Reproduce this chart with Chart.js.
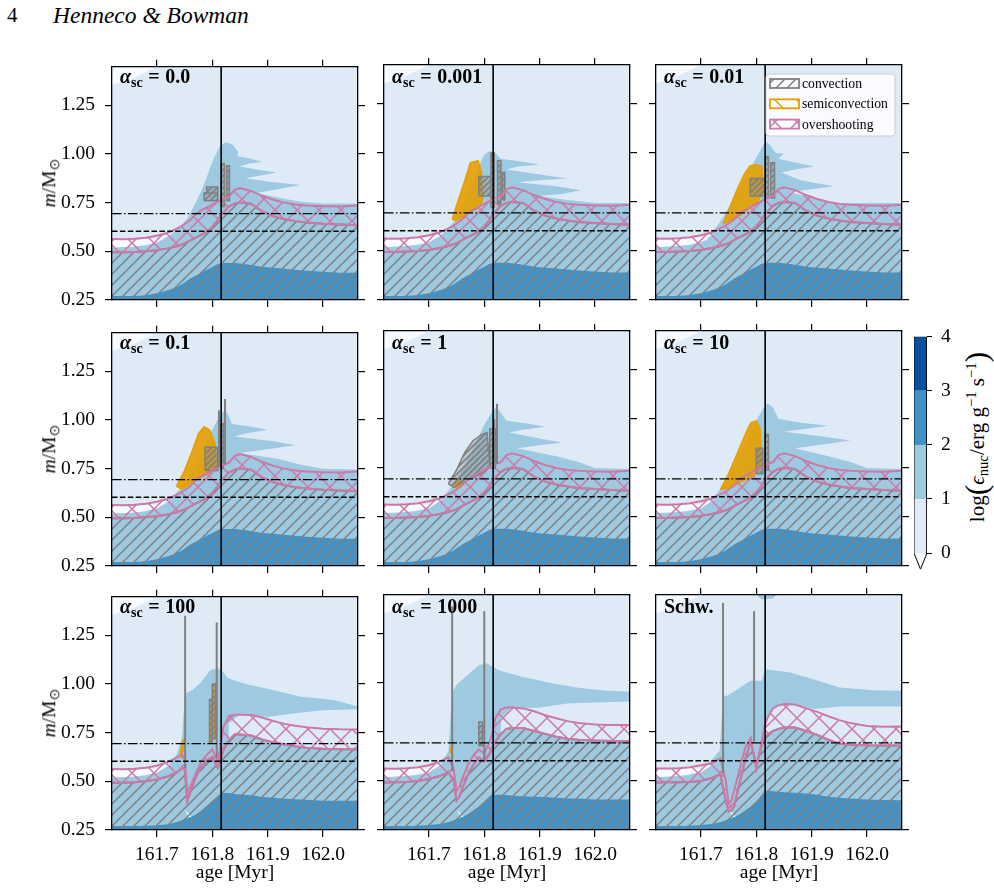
<!DOCTYPE html>
<html>
<head>
<meta charset="utf-8">
<script src="https://cdn.jsdelivr.net/npm/chart.js@4.4.1/dist/chart.umd.min.js"></script>
<style>
  body { margin: 0; width: 994px; height: 896px; position: relative; overflow: hidden; background: #fff;
         font-family: 'Liberation Serif', 'Times New Roman', serif; color: #000; }
  canvas { position: absolute; }
  .t { position: absolute; white-space: nowrap; line-height: 1; }
  .t sub { font-size: 70%; vertical-align: baseline; position: relative; top: 0.28em; }
  .t sup { font-size: 70%; vertical-align: baseline; position: relative; top: -0.55em; }
  .lab { font-weight: bold; font-size: 20px; }
  .eq { margin: 0 0.28em; }
  .rot { transform: translate(-50%, -50%) rotate(-90deg); font-size: 19.5px; }
  .cbl { font-size: 21px; }
  .big { font-size: 150%; position: relative; top: 0.08em; }
</style>
</head>
<body>
<div class="t" style="left:7px;top:5px;font-size:21px">4</div>
<div class="t" style="left:53px;top:4px;font-size:23.5px;font-style:italic">Henneco &amp; Bowman</div>
<div class="t rot cbl" style="left:974px;top:437px">log<span class="big">(</span><i>ϵ</i><sub>nuc</sub>/erg g<sup>−1</sup> s<sup>−1</sup><span class="big">)</span></div>

<script>
const ages = [161.619, 161.64, 161.66, 161.68, 161.70, 161.72, 161.735, 161.745, 161.75, 161.755,
  161.76, 161.77, 161.78, 161.79, 161.80, 161.81, 161.816, 161.82, 161.83, 161.84,
  161.85, 161.87, 161.89, 161.91, 161.93, 161.95, 161.97, 162.00, 162.03, 162.063]

const xTicks = [161.7, 161.8, 161.9, 162.0]
const yTicks = [0.25, 0.50, 0.75, 1.00, 1.25]
const ageRange = [161.619, 162.063]
const massRange = [0.25, 1.448]
const tamsAge = 161.816
const massDashDot = 0.694
const massDashed = 0.603

const panelLabels = ['0.0', '0.001', '0.01', '0.1', '1', '10', '100', '1000', 'Schw.']

// panels alpha_sc = 0 ... 10 share the core boundaries
const convTopA = [0.495, 0.495, 0.497, 0.50, 0.505, 0.515, 0.525, 0.535, 0.54, 0.548,
  0.555, 0.57, 0.585, 0.60, 0.625, 0.66, 0.69, 0.70, 0.73, 0.745,
  0.75, 0.745, 0.705, 0.68, 0.665, 0.655, 0.648, 0.642, 0.638, 0.634]
const ovTopA = [0.563, 0.562, 0.565, 0.57, 0.58, 0.595, 0.615, 0.63, 0.64, 0.65,
  0.66, 0.69, 0.71, 0.725, 0.74, 0.755, 0.765, 0.77, 0.78, 0.815,
  0.825, 0.81, 0.785, 0.765, 0.75, 0.74, 0.735, 0.732, 0.73, 0.735]
const darkTopA = [0.27, 0.27, 0.27, 0.275, 0.285, 0.30, 0.315, 0.33, 0.34, 0.35,
  0.36, 0.375, 0.39, 0.405, 0.42, 0.435, 0.44, 0.44, 0.44, 0.44,
  0.437, 0.43, 0.42, 0.415, 0.41, 0.405, 0.40, 0.395, 0.39, 0.39]

const convTop7 = [0.492, 0.493, 0.495, 0.50, 0.51, 0.525, 0.545, 0.565, 0.57, 0.40,
  0.44, 0.52, 0.575, 0.605, 0.625, 0.57, 0.62, 0.66, 0.71, 0.74,
  0.74, 0.735, 0.715, 0.70, 0.69, 0.68, 0.672, 0.667, 0.665, 0.664]
const ovTop7 = [0.563, 0.562, 0.565, 0.57, 0.58, 0.60, 0.62, 0.64, 0.62, 0.44,
  0.47, 0.54, 0.60, 0.635, 0.665, 0.60, 0.70, 0.78, 0.835, 0.842,
  0.842, 0.84, 0.828, 0.81, 0.795, 0.785, 0.778, 0.77, 0.767, 0.766]
const darkTop7 = [0.27, 0.27, 0.27, 0.272, 0.275, 0.28, 0.29, 0.30, 0.305, 0.31,
  0.315, 0.33, 0.35, 0.375, 0.40, 0.425, 0.435, 0.44, 0.44, 0.435,
  0.432, 0.428, 0.42, 0.415, 0.41, 0.408, 0.405, 0.40, 0.40, 0.40]

const convTop8 = [0.492, 0.493, 0.495, 0.50, 0.51, 0.525, 0.545, 0.50, 0.40, 0.42,
  0.46, 0.53, 0.58, 0.62, 0.60, 0.64, 0.68, 0.70, 0.74, 0.765,
  0.77, 0.77, 0.755, 0.74, 0.725, 0.715, 0.71, 0.706, 0.704, 0.703]
const ovTop8 = [0.563, 0.562, 0.565, 0.57, 0.58, 0.60, 0.62, 0.56, 0.45, 0.47,
  0.51, 0.58, 0.63, 0.66, 0.64, 0.70, 0.76, 0.82, 0.865, 0.875,
  0.875, 0.87, 0.855, 0.835, 0.82, 0.805, 0.795, 0.788, 0.785, 0.785]
const darkTop8 = [0.27, 0.27, 0.27, 0.272, 0.275, 0.28, 0.29, 0.30, 0.305, 0.31,
  0.315, 0.33, 0.35, 0.37, 0.395, 0.42, 0.43, 0.43, 0.43, 0.428,
  0.425, 0.422, 0.42, 0.418, 0.415, 0.41, 0.41, 0.405, 0.405, 0.405]

const convTop9 = [0.492, 0.493, 0.494, 0.495, 0.50, 0.515, 0.535, 0.40, 0.345, 0.35,
  0.37, 0.49, 0.61, 0.70, 0.58, 0.68, 0.723, 0.735, 0.755, 0.765,
  0.772, 0.772, 0.755, 0.735, 0.71, 0.69, 0.685, 0.682, 0.681, 0.681]
const ovTop9 = [0.563, 0.563, 0.565, 0.57, 0.58, 0.59, 0.615, 0.50, 0.385, 0.40,
  0.45, 0.56, 0.67, 0.72, 0.56, 0.706, 0.79, 0.82, 0.87, 0.885,
  0.892, 0.89, 0.87, 0.852, 0.83, 0.81, 0.795, 0.78, 0.776, 0.777]
const darkTop9 = [0.27, 0.27, 0.27, 0.272, 0.275, 0.28, 0.29, 0.30, 0.305, 0.31,
  0.315, 0.33, 0.35, 0.37, 0.395, 0.43, 0.45, 0.45, 0.448, 0.445,
  0.442, 0.44, 0.436, 0.43, 0.42, 0.415, 0.41, 0.405, 0.403, 0.402]

// upper edge of the 1 < log eps < 2 region, one outline per panel
const midX1 = [161.619, 161.68, 161.70, 161.72, 161.74, 161.755, 161.77, 161.78, 161.79, 161.80, 161.81, 161.817, 161.826, 161.838, 161.847, 161.845, 161.87, 161.89, 161.865, 161.85, 161.88, 161.916, 161.89, 161.86, 161.91, 161.96, 161.93, 161.88, 161.92, 161.96, 162.00, 162.063]
const midY1 = [0.52, 0.53, 0.545, 0.575, 0.62, 0.67, 0.75, 0.81, 0.88, 0.96, 1.02, 1.05, 1.06, 1.045, 1.01, 0.99, 0.975, 0.96, 0.95, 0.935, 0.92, 0.905, 0.89, 0.875, 0.855, 0.84, 0.825, 0.80, 0.775, 0.755, 0.745, 0.745]
const midX2 = [161.619, 161.68, 161.70, 161.72, 161.74, 161.755, 161.77, 161.78, 161.79, 161.80, 161.81, 161.82, 161.83, 161.87, 161.90, 161.86, 161.84, 161.90, 161.95, 161.90, 161.86, 161.93, 161.975, 161.94, 161.90, 161.95, 162.00, 162.063]
const midY2 = [0.52, 0.53, 0.545, 0.575, 0.63, 0.69, 0.78, 0.85, 0.93, 0.99, 1.01, 1.0, 0.97, 0.955, 0.94, 0.93, 0.915, 0.89, 0.87, 0.86, 0.85, 0.83, 0.81, 0.79, 0.78, 0.76, 0.745, 0.745]
const midX3 = [161.619, 161.68, 161.71, 161.74, 161.77, 161.789, 161.807, 161.816, 161.825, 161.835, 161.85, 161.84, 161.88, 161.905, 161.87, 161.845, 161.88, 161.94, 161.90, 161.86, 161.90, 161.95, 162.063]
const midY3 = [0.52, 0.53, 0.555, 0.67, 0.82, 0.92, 1.01, 1.06, 1.04, 1.0, 0.995, 0.97, 0.945, 0.93, 0.915, 0.90, 0.86, 0.83, 0.815, 0.80, 0.77, 0.745, 0.745]
const midX4 = [161.619, 161.68, 161.70, 161.72, 161.74, 161.76, 161.78, 161.80, 161.815, 161.823, 161.83, 161.835, 161.87, 161.90, 161.86, 161.84, 161.91, 161.95, 161.90, 161.85, 161.92, 161.96, 162.00, 162.063]
const midY4 = [0.52, 0.53, 0.55, 0.585, 0.64, 0.72, 0.83, 0.95, 1.03, 1.05, 1.02, 0.98, 0.965, 0.95, 0.93, 0.915, 0.89, 0.87, 0.85, 0.83, 0.80, 0.77, 0.75, 0.745]
const midX5 = [161.619, 161.68, 161.70, 161.72, 161.74, 161.76, 161.78, 161.80, 161.815, 161.822, 161.83, 161.84, 161.88, 161.91, 161.87, 161.845, 161.90, 161.94, 161.90, 161.86, 161.93, 161.97, 162.00, 162.063]
const midY5 = [0.52, 0.53, 0.55, 0.585, 0.65, 0.74, 0.85, 0.97, 1.04, 1.06, 1.03, 0.99, 0.975, 0.96, 0.945, 0.93, 0.90, 0.88, 0.865, 0.85, 0.81, 0.78, 0.75, 0.745]
const midX6 = [161.619, 161.68, 161.70, 161.72, 161.74, 161.76, 161.78, 161.80, 161.812, 161.82, 161.83, 161.84, 161.88, 161.93, 161.89, 161.85, 161.92, 161.97, 161.92, 161.87, 161.93, 161.97, 162.00, 162.063]
const midY6 = [0.52, 0.53, 0.55, 0.59, 0.66, 0.76, 0.87, 0.99, 1.05, 1.08, 1.06, 1.0, 0.98, 0.965, 0.95, 0.935, 0.91, 0.89, 0.87, 0.85, 0.81, 0.78, 0.75, 0.745]
const midX7 = [161.619, 161.68, 161.70, 161.718, 161.736, 161.745, 161.751, 161.765, 161.78, 161.796, 161.81, 161.82, 161.828, 161.86, 161.898, 161.958, 162.019, 162.063]
const midY7 = [0.52, 0.53, 0.545, 0.575, 0.64, 0.72, 0.95, 0.97, 1.01, 1.07, 1.08, 1.06, 1.03, 1.0, 0.976, 0.935, 0.918, 0.884]
const midX8 = [161.619, 161.68, 161.70, 161.718, 161.735, 161.742, 161.75, 161.77, 161.79, 161.805, 161.816, 161.83, 161.87, 161.92, 161.97, 162.02, 162.063]
const midY8 = [0.52, 0.53, 0.545, 0.575, 0.65, 0.95, 0.99, 1.04, 1.09, 1.10, 1.08, 1.06, 1.03, 1.0, 0.975, 0.96, 0.955]
const midX9 = [161.619, 161.68, 161.711, 161.734, 161.740, 161.748, 161.771, 161.789, 161.81, 161.816, 161.861, 161.903, 161.951, 162.011, 162.063]
const midY9 = [0.52, 0.53, 0.58, 0.655, 0.935, 0.935, 0.977, 1.011, 1.011, 1.07, 1.053, 1.019, 0.977, 0.963, 0.96]

// light band between the overshoot zone and the burning shell (alpha_sc = 100, 1000, Schw.)
const gapX7 = [161.83, 161.85, 161.87, 161.90, 161.95, 162.0, 162.063]
const gapHi7 = [0.80, 0.842, 0.84, 0.83, 0.85, 0.865, 0.87]
const gapLo7 = [0.71, 0.74, 0.735, 0.71, 0.68, 0.667, 0.664]
const gapX8 = [161.83, 161.85, 161.87, 161.90, 161.95, 162.0, 162.063]
const gapHi8 = [0.82, 0.875, 0.87, 0.875, 0.895, 0.90, 0.905]
const gapLo8 = [0.74, 0.77, 0.77, 0.75, 0.715, 0.706, 0.703]
const gapX9 = [161.816, 161.83, 161.861, 161.903, 161.951, 162.011, 162.063]
const gapHi9 = [0.79, 0.875, 0.892, 0.867, 0.879, 0.879, 0.879]
const gapLo9 = [0.723, 0.755, 0.774, 0.74, 0.69, 0.681, 0.681]

// log eps < 0 patches
const whiteX = [161.619, 161.66, 161.70, 161.725, 161.70, 161.66, 161.619]
const whiteY = [0.558, 0.558, 0.568, 0.59, 0.545, 0.525, 0.52]
const cornerX = [161.619, 161.70, 161.68, 161.65, 161.619]
const cornerY = [1.448, 1.448, 1.42, 1.38, 1.355]
const sliverX = [161.748, 161.755, 161.77, 161.785, 161.77, 161.752]
const sliverY = [0.37, 0.33, 0.285, 0.26, 0.295, 0.35]
const blobX9 = [161.80, 161.835, 161.83, 161.81]
const blobY9 = [1.448, 1.448, 1.43, 1.425]

// semiconvective zones
const semiX2 = [161.742, 161.752, 161.765, 161.775, 161.789, 161.795, 161.797, 161.79, 161.77, 161.75]
const semiY2 = [0.66, 0.75, 0.86, 0.95, 0.96, 0.90, 0.76, 0.72, 0.69, 0.655]
const semiX3 = [161.740, 161.752, 161.765, 161.778, 161.789, 161.80, 161.81, 161.812, 161.80, 161.775, 161.755]
const semiY3 = [0.64, 0.72, 0.81, 0.89, 0.935, 0.94, 0.93, 0.80, 0.74, 0.69, 0.655]
const semiX4 = [161.735, 161.75, 161.765, 161.775, 161.785, 161.795, 161.805, 161.808, 161.79, 161.765, 161.745]
const semiY4 = [0.66, 0.74, 0.85, 0.93, 0.965, 0.95, 0.88, 0.75, 0.72, 0.685, 0.645]
const semiX5 = [161.745, 161.755, 161.76, 161.75]
const semiY5 = [0.66, 0.70, 0.67, 0.645]
const semiX6 = [161.735, 161.75, 161.765, 161.78, 161.79, 161.80, 161.807, 161.81, 161.80, 161.78, 161.76, 161.745]
const semiY6 = [0.64, 0.72, 0.82, 0.92, 0.98, 0.99, 0.95, 0.78, 0.72, 0.69, 0.66, 0.645]
const semiX7a = [161.742, 161.748, 161.75, 161.745]
const semiY7a = [0.62, 0.66, 0.72, 0.70]
const semiX7b = [161.795, 161.80, 161.806, 161.803]
const semiY7b = [0.70, 0.95, 1.0, 0.72]
const semiX8a = [161.738, 161.745, 161.742]
const semiY8a = [0.64, 0.69, 0.70]
const semiX8b = [161.795, 161.80, 161.798]
const semiY8b = [0.72, 0.78, 0.73]

// convective shells [age0, age1, m0, m1]
const boxes1 = [[161.785, 161.81, 0.76, 0.80], [161.79, 161.81, 0.80, 0.83], [161.816, 161.822, 0.73, 0.95], [161.826, 161.831, 0.76, 0.94]]
const boxes2 = [[161.79, 161.812, 0.78, 0.88], [161.812, 161.818, 0.72, 1.0], [161.824, 161.83, 0.74, 0.96], [161.833, 161.837, 0.76, 0.90]]
const boxes3 = [[161.789, 161.815, 0.78, 0.87], [161.816, 161.822, 0.77, 0.98], [161.826, 161.833, 0.77, 0.95]]
const boxes4 = [[161.787, 161.81, 0.74, 0.86], [161.815, 161.82, 0.75, 0.98]]
const boxes5 = [[161.81, 161.82, 0.75, 0.95]]
const boxes6 = [[161.80, 161.812, 0.72, 0.85], [161.816, 161.822, 0.74, 0.92]]
const boxes7 = [[161.795, 161.80, 0.70, 0.92], [161.80, 161.806, 0.72, 1.0]]
const boxes8 = [[161.79, 161.797, 0.68, 0.80]]
const convX5 = [161.735, 161.75, 161.765, 161.78, 161.795, 161.805, 161.81, 161.80, 161.78, 161.76, 161.745]
const convY5 = [0.67, 0.74, 0.83, 0.89, 0.92, 0.93, 0.76, 0.73, 0.70, 0.675, 0.65]

// thin convective spikes [age, m bottom, m top]
const spikes4 = [[161.812, 0.76, 1.05], [161.823, 0.77, 1.107]]
const spikes5 = [[161.818, 0.76, 1.0], [161.823, 0.77, 1.077]]
const spikes7 = [[161.751, 0.57, 1.35], [161.808, 0.62, 1.315]]
const spikes8 = [[161.742, 0.55, 1.39], [161.80, 0.60, 1.365]]
const spikes9 = [[161.740, 0.54, 1.408], [161.796, 0.70, 1.366]]

const cbarLevels = [0, 1, 2, 3, 4]
const cbarExtend = -0.3
const legendLabels = ['convection', 'semiconvection', 'overshooting']

const grey = '#808080', orange = '#e69f00', pink = '#cc79a7'
const levelColors = ['#deebf7', '#9ecae1', '#4292c6', '#08519c']
const underColor = '#f7fbff'

Chart.defaults.font.family = "'Liberation Serif', 'Times New Roman', serif"
Chart.defaults.font.size = 19.5
Chart.defaults.color = '#000'

function hatch(color, size, dirs, width, base) {
  const c = document.createElement('canvas')
  c.width = size
  c.height = size
  const g = c.getContext('2d')
  if (base) {
    g.fillStyle = base
    g.fillRect(0, 0, size, size)
  }
  g.strokeStyle = color
  g.lineWidth = width
  g.beginPath()
  if (dirs.includes('/')) {
    g.moveTo(0, size); g.lineTo(size, 0)
    g.moveTo(-2, 2); g.lineTo(2, -2)
    g.moveTo(size - 2, size + 2); g.lineTo(size + 2, size - 2)
  }
  if (dirs.includes('\\')) {
    g.moveTo(0, 0); g.lineTo(size, size)
    g.moveTo(-2, size - 2); g.lineTo(2, size + 2)
    g.moveTo(size - 2, -2); g.lineTo(size + 2, 2)
  }
  g.stroke()
  return g.createPattern(c, 'repeat')
}

const convHatch = hatch(grey, 11, '/', 1.5)
const ovHatch = hatch(pink, 22, '/\\', 1.5)
const semiHatch = hatch(orange, 22, '\\', 1.5)
const boxHatch = hatch(grey, 6, '/', 1.6, 'rgba(128,128,128,0.35)')

const P = (xs, ys) => xs.map((x, k) => ({x, y: ys[k]}))
const under = (xs, ys) => [...P(xs, ys), {x: xs[xs.length - 1], y: massRange[0]}, {x: xs[0], y: massRange[0]}]
const band = (xs, hi, lo) => [...P(xs, hi), ...P(xs, lo).reverse()]
const closed = pts => [...pts, pts[0]]
const rect = ([a0, a1, m0, m1]) => [{x: a0, y: m0}, {x: a1, y: m0}, {x: a1, y: m1}, {x: a0, y: m1}, {x: a0, y: m0}]
const join = polys => polys.flatMap((q, k) => k ? [{x: null, y: null}, ...q] : q)

const panels = [
  {conv: convTopA, ov: ovTopA, dark: darkTopA, midX: midX1, midY: midY1, semi: [], boxes: boxes1, spikes: []},
  {conv: convTopA, ov: ovTopA, dark: darkTopA, midX: midX2, midY: midY2, semi: [[semiX2, semiY2]], boxes: boxes2, spikes: []},
  {conv: convTopA, ov: ovTopA, dark: darkTopA, midX: midX3, midY: midY3, semi: [[semiX3, semiY3]], boxes: boxes3, spikes: [], legend: true},
  {conv: convTopA, ov: ovTopA, dark: darkTopA, midX: midX4, midY: midY4, semi: [[semiX4, semiY4]], boxes: boxes4, spikes: spikes4},
  {conv: convTopA, ov: ovTopA, dark: darkTopA, midX: midX5, midY: midY5, semi: [[semiX5, semiY5]], boxes: boxes5, spikes: spikes5, convPoly: [convX5, convY5]},
  {conv: convTopA, ov: ovTopA, dark: darkTopA, midX: midX6, midY: midY6, semi: [[semiX6, semiY6]], boxes: boxes6, spikes: []},
  {conv: convTop7, ov: ovTop7, dark: darkTop7, midX: midX7, midY: midY7, semi: [[semiX7a, semiY7a], [semiX7b, semiY7b]], boxes: boxes7, spikes: spikes7, gap: [gapX7, gapHi7, gapLo7], sliver: true},
  {conv: convTop8, ov: ovTop8, dark: darkTop8, midX: midX8, midY: midY8, semi: [[semiX8a, semiY8a], [semiX8b, semiY8b]], boxes: boxes8, spikes: spikes8, gap: [gapX8, gapHi8, gapLo8], sliver: true},
  {conv: convTop9, ov: ovTop9, dark: darkTop9, midX: midX9, midY: midY9, semi: [], boxes: [], spikes: spikes9, gap: [gapX9, gapHi9, gapLo9], sliver: true, blob: true}
]

const colLeft = [112, 384, 656]
const rowTop = [65, 331, 595]
const plotW = 246, plotH = 235

function area(data, fill, edge) {
  return {data, fill: 'shape', backgroundColor: fill, borderColor: edge || 'transparent',
    borderWidth: edge ? 1.5 : 0, pointRadius: 0, xAxisID: 'x', yAxisID: 'y'}
}
function curve(data, color, width, dash) {
  return {data, fill: false, borderColor: color, borderWidth: width, borderDash: dash || [],
    pointRadius: 0, xAxisID: 'x', yAxisID: 'y'}
}

function buildLayers(p) {
  const layers = [
    area(band(ageRange, [massRange[1], massRange[1]], [massRange[0], massRange[0]]), levelColors[0]),
    area(P(cornerX, cornerY), underColor),
    area(under(p.midX, p.midY), levelColors[1])
  ]
  if (p.gap) layers.push(area(band(p.gap[0], p.gap[1], p.gap[2]), levelColors[0]))
  layers.push(area(P(whiteX, whiteY), underColor))
  if (p.sliver) layers.push(area(P(sliverX, sliverY), underColor))
  layers.push(area(under(ages, p.dark), levelColors[2]))
  if (p.blob) layers.push(area(P(blobX9, blobY9), levelColors[1]))
  layers.push(area(under(ages, p.conv), convHatch))
  layers.push(area(band(ages, p.ov, p.conv), ovHatch))
  if (p.semi.length) {
    layers.push(area(join(p.semi.map(([xs, ys]) => closed(P(xs, ys)))), 'rgba(230,159,0,0.9)', orange))
  }
  if (p.convPoly) layers.push(area(closed(P(p.convPoly[0], p.convPoly[1])), boxHatch, grey))
  if (p.boxes.length) layers.push(area(join(p.boxes.map(rect)), boxHatch, grey))
  layers.push(curve(P(ages, p.conv), grey, 2))
  layers.push(curve(P(ages, p.ov), pink, 2))
  layers.push(curve(P(ages, p.conv), pink, 2))
  p.spikes.forEach(([a, m0, m1]) => layers.push(curve(P([a, a], [m0, m1]), grey, 2)))
  layers.push(curve(P(ageRange, [massDashDot, massDashDot]), '#000', 1.3, [9.6, 2.4, 1.5, 2.4]))
  layers.push(curve(P(ageRange, [massDashed, massDashed]), '#000', 1.3, [5.5, 2.4]))
  layers.push(curve(P([tamsAge, tamsAge], massRange), '#000', 1.6))
  return layers.reverse()
}

const legendBox = {
  id: 'legendBox',
  afterDraw(chart) {
    const {ctx, chartArea} = chart
    const w = 129, h = 62
    const x0 = chartArea.right - 7 - w, y0 = chartArea.top + 9
    const fills = [convHatch, semiHatch, ovHatch]
    const edges = [grey, orange, pink]
    ctx.save()
    ctx.beginPath()
    ctx.roundRect(x0, y0, w, h, 3)
    ctx.fillStyle = 'rgba(255,255,255,0.8)'
    ctx.fill()
    ctx.strokeStyle = '#cccccc'
    ctx.lineWidth = 1
    ctx.stroke()
    ctx.font = "13.7px 'Liberation Serif', serif"
    ctx.textBaseline = 'alphabetic'
    legendLabels.forEach((label, i) => {
      const cy = y0 + 9.5 + i * 20.3
      ctx.fillStyle = fills[i]
      ctx.fillRect(x0 + 4, cy - 4.5, 29, 9)
      ctx.strokeStyle = edges[i]
      ctx.lineWidth = 1.8
      ctx.strokeRect(x0 + 4, cy - 4.5, 29, 9)
      ctx.fillStyle = '#000'
      ctx.fillText(label, x0 + 36, cy + 4.5)
    })
    ctx.restore()
  }
}

const tickGrid = {display: true, drawOnChartArea: false, drawTicks: true, tickLength: 7, color: '#000', lineWidth: 1.2}
const spine = {display: true, color: '#000', width: 1.3, z: 1}

panels.forEach((p, i) => {
  const col = i % 3, row = Math.floor(i / 3)
  const canvas = document.createElement('canvas')
  canvas.width = 112 + plotW + 14
  canvas.height = 20 + plotH + 66
  canvas.style.left = (colLeft[col] - 112) + 'px'
  canvas.style.top = (rowTop[row] - 20) + 'px'
  document.body.appendChild(canvas)

  const xTickSetup = s => { s.ticks = xTicks.map(v => ({value: v})) }
  const yTickSetup = s => { s.ticks = yTicks.map(v => ({value: v})) }

  new Chart(canvas, {
    type: 'line',
    data: {datasets: buildLayers(p)},
    options: {
      animation: false,
      responsive: false,
      events: [],
      layout: {padding: 0, autoPadding: false},
      elements: {line: {tension: 0}, point: {radius: 0}},
      plugins: {legend: {display: false}, tooltip: {enabled: false}},
      scales: {
        x: {
          type: 'linear', position: 'bottom', min: ageRange[0], max: ageRange[1],
          grid: tickGrid, border: spine,
          ticks: {display: row === 2, padding: 6, autoSkip: false, maxRotation: 0, callback: v => v.toFixed(1)},
          title: {display: row === 2, text: 'age [Myr]', padding: {top: 0, bottom: 11}},
          afterBuildTicks: xTickSetup,
          afterFit: s => { s.height = 66 }
        },
        xTop: {
          type: 'linear', position: 'top', min: ageRange[0], max: ageRange[1],
          grid: tickGrid, border: spine, ticks: {display: false},
          afterBuildTicks: xTickSetup,
          afterFit: s => { s.height = 20 }
        },
        y: {
          type: 'linear', position: 'left', min: massRange[0], max: massRange[1],
          grid: tickGrid, border: spine,
          ticks: {display: col === 0, padding: 10, autoSkip: false, callback: v => v.toFixed(2)},
          afterBuildTicks: yTickSetup,
          afterFit: s => { s.width = 112 }
        },
        yR: {
          type: 'linear', position: 'right', min: massRange[0], max: massRange[1],
          grid: tickGrid, border: spine, ticks: {display: false},
          afterBuildTicks: yTickSetup,
          afterFit: s => { s.width = 14 }
        }
      }
    },
    plugins: p.legend ? [legendBox] : []
  })

  const lab = document.createElement('div')
  lab.className = 't lab'
  lab.style.left = (colLeft[col] + 8) + 'px'
  lab.style.top = (rowTop[row] + 1) + 'px'
  const text = panelLabels[i]
  lab.innerHTML = text === 'Schw.' ? 'Schw.' : '<i>α</i><sub>sc</sub><span class="eq">=</span>' + text
  document.body.appendChild(lab)

  if (col === 0) {
    const yl = document.createElement('div')
    yl.className = 't rot'
    yl.style.left = '49px'
    yl.style.top = (rowTop[row] + plotH / 2) + 'px'
    yl.innerHTML = '<i>m</i>/M<sub>⊙</sub>'
    document.body.appendChild(yl)
  }
})

// colour bar
const cb = document.createElement('canvas')
cb.width = 94
cb.height = 274
cb.style.left = '900px'
cb.style.top = '316px'
document.body.appendChild(cb)

const cbSets = levelColors.map((c, k) => ({
  data: band([0, 1], [cbarLevels[k + 1], cbarLevels[k + 1]], [cbarLevels[k], cbarLevels[k]]),
  fill: 'shape', backgroundColor: c, borderWidth: 0, pointRadius: 0
}))
cbSets.push({data: P([0, 1, 0.5], [0, 0, cbarExtend]), fill: 'shape', backgroundColor: underColor, borderWidth: 0, pointRadius: 0})
cbSets.unshift({data: P([0, 1, 1, 0.5, 0, 0], [4, 4, 0, cbarExtend, 0, 4]), fill: false, borderColor: '#000', borderWidth: 1, pointRadius: 0})

new Chart(cb, {
  type: 'line',
  data: {datasets: cbSets},
  options: {
    animation: false,
    responsive: false,
    events: [],
    layout: {padding: {top: 14, left: 14, bottom: 18, right: 0}, autoPadding: false},
    plugins: {legend: {display: false}, tooltip: {enabled: false}},
    scales: {
      x: {type: 'linear', min: 0, max: 1, display: false},
      y: {
        type: 'linear', position: 'right', min: cbarExtend, max: 4,
        grid: {display: true, drawOnChartArea: false, drawTicks: true, tickLength: 5, color: '#000', lineWidth: 1},
        border: {display: false},
        ticks: {padding: 9, autoSkip: false, callback: v => String(v)},
        afterBuildTicks: s => { s.ticks = cbarLevels.map(v => ({value: v})) },
        afterFit: s => { s.width = 67 }
      }
    }
  }
})
</script>
</body>
</html>
